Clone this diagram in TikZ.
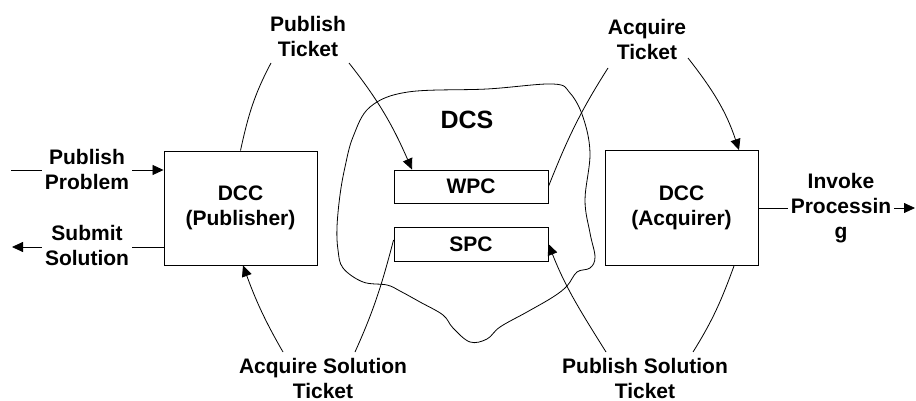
\documentclass[tikz,border=0pt]{standalone}
\usepackage{fontspec}
\setmainfont{Liberation Sans}
\usetikzlibrary{arrows.meta}
\begin{document}
\begin{tikzpicture}[x=1pt,y=-1pt,
  every node/.style={font=\fontsize{21}{25}\selectfont\bfseries},
  box/.style={draw, line width=0.9pt, inner sep=0pt, align=center},
  lbl/.style={align=center, inner xsep=3pt, inner ysep=1pt},
  link/.style={line width=0.8pt},
  tip/.style={-{Triangle[length=11pt,width=10pt]}}]
\useasboundingbox (0,0) rectangle (916,401);

% the shared space (cloud)
\draw[line width=0.8pt] plot[smooth cycle, tension=0.6] coordinates {
  (408,92) (487,89) (553,84) (570,93) (583,117) (590,153) (585,200)
  (590,233) (595,257) (590,268) (577,272) (567,286) (553,297) (527,312)
  (500,327) (487,339) (470,342) (453,328) (443,315) (420,302) (400,291)
  (387,285) (363,282) (343,268) (338,250) (337,227) (340,195) (345,167)
  (353,137) (370,107)};
\node[font=\fontsize{25}{30}\selectfont\bfseries] (dcs) at (467,120) {DCS};

% components
\node[box, minimum width=153pt, minimum height=114pt] (pub) at (240.5,208) {DCC\\(Publisher)};
\node[box, minimum width=153pt, minimum height=115pt] (acq) at (681.5,208) {DCC\\(Acquirer)};
\node[box, minimum width=154pt, minimum height=33pt] (wpc) at (471,186.5) {WPC};
\node[box, minimum width=154pt, minimum height=34pt] (spc) at (471,244) {SPC};

% labels
\node[lbl] (pp)  at (87,169)  {Publish\\Problem};
\node[lbl] (ss)  at (87,245)  {Submit\\Solution};
\node[lbl] (pt)  at (308,36)  {Publish\\Ticket};
\node[lbl] (at)  at (647,39)  {Acquire\\Ticket};
\node[lbl] (ip)  at (841,208) {Invoke\\Processin\\g};
\node[lbl] (ast) at (323,378) {Acquire Solution\\Ticket};
\node[lbl] (pst) at (645,378) {Publish Solution\\Ticket};

% free ends of the connectors
\coordinate (ppin)  at (11,170);
\coordinate (ssout) at (12,247);
\coordinate (ipout) at (915,208);
\coordinate (pt1)  at (271,63);
\coordinate (pt2)  at (349,63);
\coordinate (at1)  at (608,68);
\coordinate (at2)  at (688,58);
\coordinate (ast1) at (283,352);
\coordinate (ast2) at (355,352);
\coordinate (pst1) at (606,352);
\coordinate (pst2) at (693,352);

% straight flows
\draw[link] (ppin) -- (ppin -| pp.west);
\draw[link,tip] (ppin -| pp.east) -- (ppin -| pub.west);
\draw[link] (ssout -| pub.west) -- (ssout -| ss.east);
\draw[link,tip] (ssout -| ss.west) -- (ssout);
\draw[link] (acq.east) -- (ip.west |- acq.east);
\draw[link,tip] (ip.east |- acq.east) -- (ipout);

% ticket flows
\draw[link] (pt1) .. controls (254,95) and (248,116) .. (pub.north);
\draw[link,tip] (pt2) .. controls (379,101) and (393,126) .. ([xshift=-59pt]wpc.north);
\draw[link,tip] (at2) .. controls (713,90) and (726,111) .. ([xshift=57.5pt]acq.north);
\draw[link] (at1) .. controls (580,112) and (567.5,138.5) .. (wpc.east);
\draw[link,tip] (ast1) .. controls (264.5,320) and (255.7,300) .. ([xshift=2.5pt]pub.south);
\draw[link] (ast2) .. controls (374,310) and (382,284) .. ([yshift=4pt]spc.west);
\draw[link,tip] (pst1) .. controls (580.6,311.3) and (566,288.5) .. (spc.east);
\draw[link] (pst2) .. controls (712.6,320.6) and (721.3,300.8) .. ([xshift=52.5pt]acq.south);
\end{tikzpicture}
\end{document}
